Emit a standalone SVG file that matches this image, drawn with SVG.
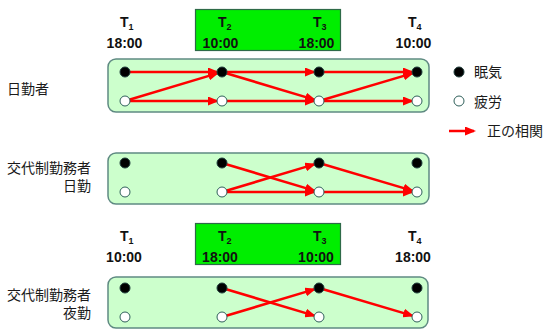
<svg xmlns="http://www.w3.org/2000/svg" width="545" height="329" viewBox="0 0 545 329">
<style>
.hdr{font-family:"Liberation Sans",Arial,sans-serif;font-size:14px;font-weight:bold;fill:#111}
.sub{font-size:9px}
.tm{font-family:"Liberation Sans",Arial,sans-serif;font-size:14px;font-weight:bold;fill:#111;text-anchor:middle}
.jp{font-family:"Liberation Sans","Noto Sans CJK JP",sans-serif;font-size:14px;fill:#1a1a1a}
.panel{fill:#ccffcc;stroke:#5f8a82;stroke-width:1.5}
.gbox{fill:#00ee00;stroke:#2e6a48;stroke-width:1.2}
.arr{stroke:#ff0000;stroke-width:2.5;fill:none;marker-end:url(#ah)}
.b{fill:#000;stroke:#1e3c3a;stroke-width:1}
.w{fill:#fff;stroke:#2f5f5a;stroke-width:1}
</style>
<defs>
<marker id="ah" markerUnits="userSpaceOnUse" markerWidth="11" markerHeight="9" refX="9" refY="4.5" orient="auto">
<path d="M0,0 L11,4.5 L0,9 z" fill="#ff0000"/>
</marker>
</defs>

<g id="header1">
<rect class="gbox" x="195.5" y="9.5" width="145" height="41"/>
<text class="hdr" x="120" y="27">T<tspan class="sub" dy="3">1</tspan></text>
<text class="hdr" x="218" y="27">T<tspan class="sub" dy="3">2</tspan></text>
<text class="hdr" x="313" y="27">T<tspan class="sub" dy="3">3</tspan></text>
<text class="hdr" x="408" y="27">T<tspan class="sub" dy="3">4</tspan></text>
<text class="tm" x="124.5" y="48">18:00</text>
<text class="tm" x="220.5" y="48">10:00</text>
<text class="tm" x="316.5" y="48">18:00</text>
<text class="tm" x="413.5" y="48">10:00</text>
</g>

<g id="header2">
<rect class="gbox" x="195.5" y="223.5" width="145" height="41"/>
<text class="hdr" x="120" y="241">T<tspan class="sub" dy="3">1</tspan></text>
<text class="hdr" x="218" y="241">T<tspan class="sub" dy="3">2</tspan></text>
<text class="hdr" x="313" y="241">T<tspan class="sub" dy="3">3</tspan></text>
<text class="hdr" x="408" y="241">T<tspan class="sub" dy="3">4</tspan></text>
<text class="tm" x="124" y="262">10:00</text>
<text class="tm" x="220" y="262">18:00</text>
<text class="tm" x="316" y="262">10:00</text>
<text class="tm" x="413" y="262">18:00</text>
</g>

<g id="labels">
<text class="jp" x="7" y="93.5">日勤者</text>
<text class="jp" x="91" y="173" text-anchor="end">交代制勤務者</text>
<text class="jp" x="91" y="191" text-anchor="end">日勤</text>
<text class="jp" x="91" y="300" text-anchor="end">交代制勤務者</text>
<text class="jp" x="91" y="318" text-anchor="end">夜勤</text>
</g>

<g id="panel1"><rect class="panel" x="108" y="59" width="321" height="53" rx="8"/></g>
<g id="panel2"><rect class="panel" x="108" y="153" width="321" height="51" rx="8"/></g>
<g id="panel3"><rect class="panel" x="108" y="277" width="320" height="51" rx="8"/></g>

<g id="connectors">
<line class="arr" x1="125" y1="72" x2="217" y2="72"/>
<line class="arr" x1="125" y1="101" x2="217" y2="101"/>
<line class="arr" x1="125" y1="101" x2="217.2" y2="73.4"/>
<line class="arr" x1="222" y1="72" x2="314" y2="72"/>
<line class="arr" x1="222" y1="101" x2="314" y2="101"/>
<line class="arr" x1="222" y1="72" x2="314.2" y2="99.6"/>
<line class="arr" x1="319" y1="72" x2="412" y2="72"/>
<line class="arr" x1="319" y1="101" x2="412" y2="101"/>
<line class="arr" x1="319" y1="101" x2="412.2" y2="73.4"/>

<line class="arr" x1="222" y1="163" x2="314.2" y2="190.6"/>
<line class="arr" x1="222" y1="192" x2="314.2" y2="164.4"/>
<line class="arr" x1="222" y1="192" x2="314" y2="192"/>
<line class="arr" x1="319" y1="163" x2="412.2" y2="190.6"/>
<line class="arr" x1="319" y1="192" x2="412" y2="192"/>

<line class="arr" x1="222" y1="288" x2="314.2" y2="315.6"/>
<line class="arr" x1="222" y1="317" x2="314.2" y2="289.4"/>
<line class="arr" x1="319" y1="288" x2="412.2" y2="315.6"/>

<line class="arr" x1="449" y1="131" x2="474" y2="131"/>
</g>

<g id="nodes1">
<circle class="b" cx="125" cy="72" r="5"/><circle class="w" cx="125" cy="101" r="5"/>
<circle class="b" cx="222" cy="72" r="5"/><circle class="w" cx="222" cy="101" r="5"/>
<circle class="b" cx="319" cy="72" r="5"/><circle class="w" cx="319" cy="101" r="5"/>
<circle class="b" cx="417" cy="72" r="5"/><circle class="w" cx="417" cy="101" r="5"/>
</g>
<g id="nodes2">
<circle class="b" cx="125" cy="163" r="5"/><circle class="w" cx="125" cy="192" r="5"/>
<circle class="b" cx="222" cy="163" r="5"/><circle class="w" cx="222" cy="192" r="5"/>
<circle class="b" cx="319" cy="163" r="5"/><circle class="w" cx="319" cy="192" r="5"/>
<circle class="b" cx="417" cy="163" r="5"/><circle class="w" cx="417" cy="192" r="5"/>
</g>
<g id="nodes3">
<circle class="b" cx="125" cy="288" r="5"/><circle class="w" cx="125" cy="317" r="5"/>
<circle class="b" cx="222" cy="288" r="5"/><circle class="w" cx="222" cy="317" r="5"/>
<circle class="b" cx="319" cy="288" r="5"/><circle class="w" cx="319" cy="317" r="5"/>
<circle class="b" cx="417" cy="288" r="5"/><circle class="w" cx="417" cy="317" r="5"/>
</g>

<g id="legend">
<circle class="b" cx="459" cy="72" r="5"/>
<text class="jp" x="474" y="77">眠気</text>
<circle class="w" cx="459" cy="101" r="5"/>
<text class="jp" x="474" y="106.5">疲労</text>
<text class="jp" x="487" y="135.5">正の相関</text>
</g>
</svg>
